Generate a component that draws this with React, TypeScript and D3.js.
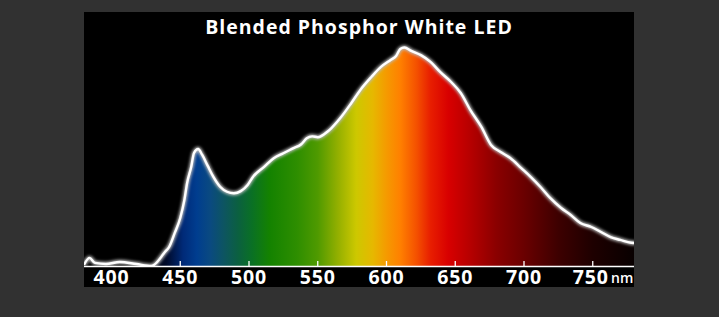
import React from "react";
import * as d3 from "d3";

const wavelengths = [380, 384, 388, 396, 406, 418, 429, 439, 442, 446, 450, 453, 455, 458, 460, 463, 466, 470, 474, 479, 484, 489, 494, 499, 503, 511, 518, 525, 532, 538, 542, 546, 550, 557, 560, 567, 574, 581, 589, 596, 603, 607, 610, 613, 618, 625, 632, 639, 647, 654, 661, 669, 676, 683, 690, 698, 705, 712, 719, 727, 734, 741, 749, 756, 763, 770, 778, 781];
const intensity = [0.5, 3.7, 1.4, 0.9, 1.8, 0.9, 0, 6.5, 8.8, 15.1, 21.9, 30.1, 37.9, 45.3, 51.6, 53.4, 50.7, 45.7, 40.8, 36.2, 33.9, 33.2, 34.2, 37, 40.8, 45.3, 49.2, 51.5, 53.7, 55.6, 58.3, 59.2, 58.8, 61.3, 63.0, 68.0, 74.0, 80.4, 86.3, 90.9, 94.1, 95.9, 99.1, 99.8, 98.2, 96.3, 93.2, 88.6, 84.0, 79.0, 71.2, 63.5, 55.3, 52.1, 49.3, 44.7, 40.6, 36.1, 31.1, 26.5, 23.3, 19.6, 17.8, 15.5, 13.2, 11.9, 10.6, 10.5];
const tickValues = [400, 450, 500, 550, 600, 650, 700, 750];
const markedTicks = [450, 500, 550, 600, 650, 700, 750];
const title = "Blended Phosphor White LED";
const unit = "nm";

const gradNm = [380, 425, 440, 452, 462, 472, 482, 492, 502, 515, 535, 550, 565, 578, 590, 600, 610, 622, 632, 645, 660, 680, 700, 725, 750, 780];
const gradColors = ["#000000", "#000000", "#000a2a", "#002a78", "#003d8f", "#0a4a80", "#0d5560", "#0b6040", "#0a7025", "#148200", "#2e8e00", "#4f9a00", "#95b000", "#cdc800", "#e6b800", "#f59a00", "#ff8000", "#f45000", "#e81e00", "#d80000", "#b80000", "#8a0000", "#6a0000", "#3d0000", "#1e0000", "#080000"];

export default function App() {
  const W = 719, H = 317;
  const left = 84, right = 634, top = 12, bottom = 287, axisY = 266;
  const x = d3.scaleLinear().domain([380, 780]).range([left, right]);
  const y = d3.scaleLinear().domain([0, 100]).range([axisY, 47]);
  const data = wavelengths.map((w, i) => ({ w, v: intensity[i] }));
  const line = d3.line<any>().x(d => x(d.w)).y(d => y(d.v)).curve(d3.curveMonotoneX);
  const area = d3.area<any>().x(d => x(d.w)).y0(axisY).y1(d => y(d.v)).curve(d3.curveMonotoneX);
  const span = x(780) - x(380);
  return (
    <svg width={W} height={H} style={{ position: "absolute", left: 0, top: 0 }}>
      <defs>
        <linearGradient id="spec" gradientUnits="userSpaceOnUse" x1={x(380)} x2={x(780)} y1={0} y2={0}>
          {gradNm.map((n, i) => (
            <stop key={i} offset={(x(n) - x(380)) / span} stopColor={gradColors[i]} />
          ))}
        </linearGradient>
        <filter id="glow" x="-10%" y="-10%" width="120%" height="120%">
          <feGaussianBlur stdDeviation="1.6" />
        </filter>
        <clipPath id="plot">
          <rect x={left} y={top} width={right - left} height={axisY - top} />
        </clipPath>
      </defs>
      <rect x={0} y={0} width={W} height={H} fill="#313131" />
      <rect x={left} y={top} width={right - left} height={bottom - top} fill="#000" />
      <g clipPath="url(#plot)">
        <path d={area(data) || ""} fill="url(#spec)" />
        <path d={line(data) || ""} fill="none" stroke="#bbbbbb" strokeWidth={4.5} filter="url(#glow)" />
        <path d={line(data) || ""} fill="none" stroke="#ffffff" strokeWidth={2.4} strokeLinejoin="round" />
      </g>
      <line x1={left} x2={right} y1={axisY + 0.5} y2={axisY + 0.5} stroke="#fff" strokeWidth={1.6} />
      {markedTicks.map(t => (
        <line key={t} x1={x(t)} x2={x(t)} y1={axisY} y2={axisY - 5} stroke="#fff" strokeWidth={1.3} />
      ))}
      {tickValues.map(t => (
        <text key={t} x={t === 750 ? x(t) - 2 : x(t)} y={283.5} textAnchor="middle" fill="#fff"
          style={{ fontFamily: "'Open Sans', sans-serif", fontWeight: 700, fontSize: 19.5, letterSpacing: 0.8 }}>
          {t}
        </text>
      ))}
      <text x={611} y={283} fill="#fff"
        style={{ fontFamily: "'Open Sans', sans-serif", fontWeight: 600, fontSize: 14 }}>{unit}</text>
      <text x={(left + right) / 2} y={34} textAnchor="middle" fill="#fff"
        style={{ fontFamily: "'Open Sans', sans-serif", fontWeight: 700, fontSize: 19.5, letterSpacing: 1.0 }}>
        {title}
      </text>
    </svg>
  );
}
